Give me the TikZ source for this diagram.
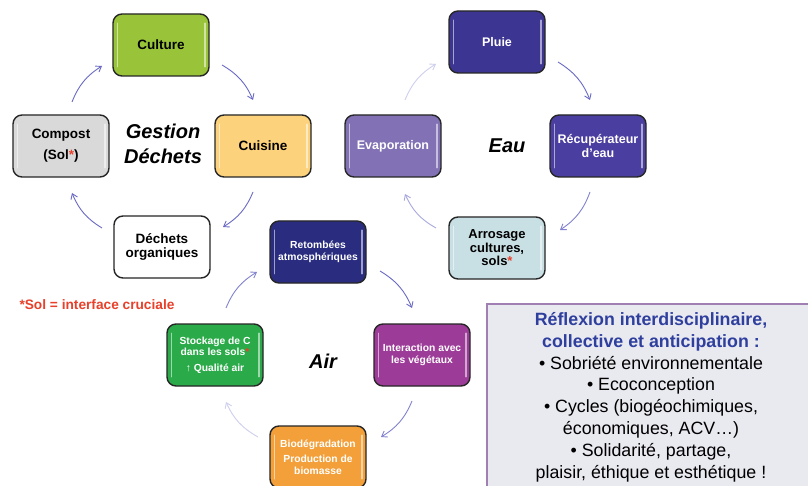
\documentclass[tikz,border=0pt]{standalone}
\usepackage{fontspec}
\setmainfont{Liberation Sans}
\usetikzlibrary{arrows.meta}
\definecolor{cCulture}{HTML}{99C43A}
\definecolor{cCuisine}{HTML}{FDD27C}
\definecolor{cCompost}{HTML}{D9D9D9}
\definecolor{cPluie}{HTML}{3D3592}
\definecolor{cRecup}{HTML}{4A3EA0}
\definecolor{cEvap}{HTML}{8272B5}
\definecolor{cArros}{HTML}{C8DFE3}
\definecolor{cRetomb}{HTML}{2A2D7F}
\definecolor{cInter}{HTML}{9D3C98}
\definecolor{cStock}{HTML}{2BAA4A}
\definecolor{cBio}{HTML}{F4A03A}
\definecolor{cRed}{HTML}{E8402A}
\definecolor{cBlueTxt}{HTML}{2E3F9E}
\definecolor{cPanel}{HTML}{E9E9F0}
\definecolor{cPanelBd}{HTML}{A080B2}
\definecolor{a1}{HTML}{6A6AC6}
\definecolor{a2}{HTML}{8282D0}
\definecolor{a3}{HTML}{A8A8DE}
\definecolor{a4}{HTML}{CFCFEE}
\tikzset{
  box/.style={draw=black!85, line width=1.4pt, rounded corners=9pt,
    minimum width=96pt, minimum height=62pt, inner sep=1pt, align=center},
  bigtxt/.style={font=\bfseries\fontsize{13.5}{14}\selectfont},
  midtxt/.style={font=\bfseries\fontsize{12.5}{14}\selectfont},
  smalltxt/.style={font=\bfseries\fontsize{10.3}{11.5}\selectfont},
  hl/.style={white, opacity=0.55, line width=1.6pt, line cap=round},
  cyc/.style={line width=0.9pt, -{Straight Barb[length=5pt,width=7pt]}},
  lbl/.style={font=\bfseries\itshape\fontsize{20}{25}\selectfont, align=center},
}
\begin{document}
\begin{tikzpicture}[x=1pt,y=-1pt]
\useasboundingbox (0,0) rectangle (808,486);
\fill[white] (0,0) rectangle (808,486);

% text panel
\draw[fill=cPanel, draw=cPanelBd, line width=1.2pt] (487,304) rectangle (815,495);
\node[align=center, anchor=north, font=\fontsize{17.8}{21.8}\selectfont] (panel) at (651,309)
 {{\bfseries\color{cBlueTxt}Réflexion interdisciplinaire,}\\
  {\bfseries\color{cBlueTxt}collective et anticipation :}\\
  • Sobriété environnementale\\
  • Ecoconception\\
  • Cycles (biogéochimiques,\\
  économiques, ACV…)\\
  • Solidarité, partage,\\
  plaisir, éthique et esthétique !};

% Gestion Déchets cycle
\node[box, fill=cCulture, bigtxt] (culture) at (161,45) {Culture};
\node[box, fill=cCuisine, bigtxt] (cuisine) at (263,146) {Cuisine};
\node[box, fill=cCompost, bigtxt, font=\bfseries\fontsize{13.5}{21}\selectfont] (compost) at (61,146) {Compost\\(Sol{\color{cRed}*})};
\node[box, fill=white, bigtxt] (dechets) at (162,247) {Déchets\\organiques};
\node[lbl] (gestion) at (163,144) {Gestion\\Déchets};

% Eau cycle
\node[box, fill=cPluie, text=white, midtxt] (pluie) at (497,42) {Pluie};
\node[box, fill=cRecup, text=white, midtxt] (recup) at (598,146) {Récupérateur\\d'eau};
\node[box, fill=cEvap, text=white, midtxt] (evap) at (393,146) {Evaporation};
\node[box, fill=cArros, bigtxt, font=\bfseries\fontsize{13}{13.5}\selectfont] (arros) at (497,248) {Arrosage\\cultures,\\sols{\color{cRed}*}};
\node[lbl] (eau) at (507,146) {Eau};

% Air cycle
\node[box, fill=cRetomb, text=white, smalltxt] (retomb) at (318,252) {Retombées\\atmosphériques};
\node[box, fill=cInter, text=white, smalltxt] (inter) at (422,355) {Interaction avec\\les végétaux};
\node[box, fill=cStock, text=white, smalltxt] (stock) at (215,355) {Stockage de C\\dans les sols{\color{cRed}*}\\[4pt]↑ Qualité air};
\node[box, fill=cBio, text=white, smalltxt] (bio) at (318,457) {Biodégradation\\[4pt]Production de\\biomasse};
\node[lbl] (air) at (323,361) {Air};

% highlights
\foreach \n in {culture,cuisine,compost,dechets,pluie,recup,evap,arros,retomb,inter,stock,bio}{
  \draw[hl] ([xshift=5pt,yshift=-10pt]\n.north west) -- ([xshift=5pt,yshift=10pt]\n.south west);
  \draw[hl] ([xshift=-5pt,yshift=-10pt]\n.north east) -- ([xshift=-5pt,yshift=10pt]\n.south east);
}

% note
\node[text=cRed, font=\bfseries\fontsize{13.7}{15}\selectfont] (note) at (97,305) {*Sol = interface cruciale};

% arrow end points
\coordinate (g1s) at (222,65);  \coordinate (g1e) at (253,100);
\coordinate (g2s) at (253,192); \coordinate (g2e) at (223,227);
\coordinate (g3s) at (102,228); \coordinate (g3e) at (72,193);
\coordinate (g4s) at (72,102);  \coordinate (g4e) at (102,66);
\coordinate (e1s) at (558,62);  \coordinate (e1e) at (590,100);
\coordinate (e2s) at (590,192); \coordinate (e2e) at (560,230);
\coordinate (e3s) at (436,228); \coordinate (e3e) at (405,194);
\coordinate (e4s) at (405,100); \coordinate (e4e) at (436,64);
\coordinate (r1s) at (380,271); \coordinate (r1e) at (412,308);
\coordinate (r2s) at (412,401); \coordinate (r2e) at (381,437);
\coordinate (r3s) at (258,437); \coordinate (r3e) at (226,402);
\coordinate (r4s) at (226,308); \coordinate (r4e) at (257,272);

\draw[cyc, a1] (g1s) to[bend left=18] (g1e);
\draw[cyc, a1] (g2s) to[bend left=18] (g2e);
\draw[cyc, a1] (g3s) to[bend left=18] (g3e);
\draw[cyc, a1] (g4s) to[bend left=18] (g4e);

\draw[cyc, a1] (e1s) to[bend left=18] (e1e);
\draw[cyc, a2] (e2s) to[bend left=18] (e2e);
\draw[cyc, a3] (e3s) to[bend left=18] (e3e);
\draw[cyc, a4] (e4s) to[bend left=18] (e4e);

\draw[cyc, a1] (r1s) to[bend left=18] (r1e);
\draw[cyc, a2] (r2s) to[bend left=18] (r2e);
\draw[cyc, a4] (r3s) to[bend left=18] (r3e);
\draw[cyc, a2] (r4s) to[bend left=18] (r4e);
\end{tikzpicture}
\end{document}
